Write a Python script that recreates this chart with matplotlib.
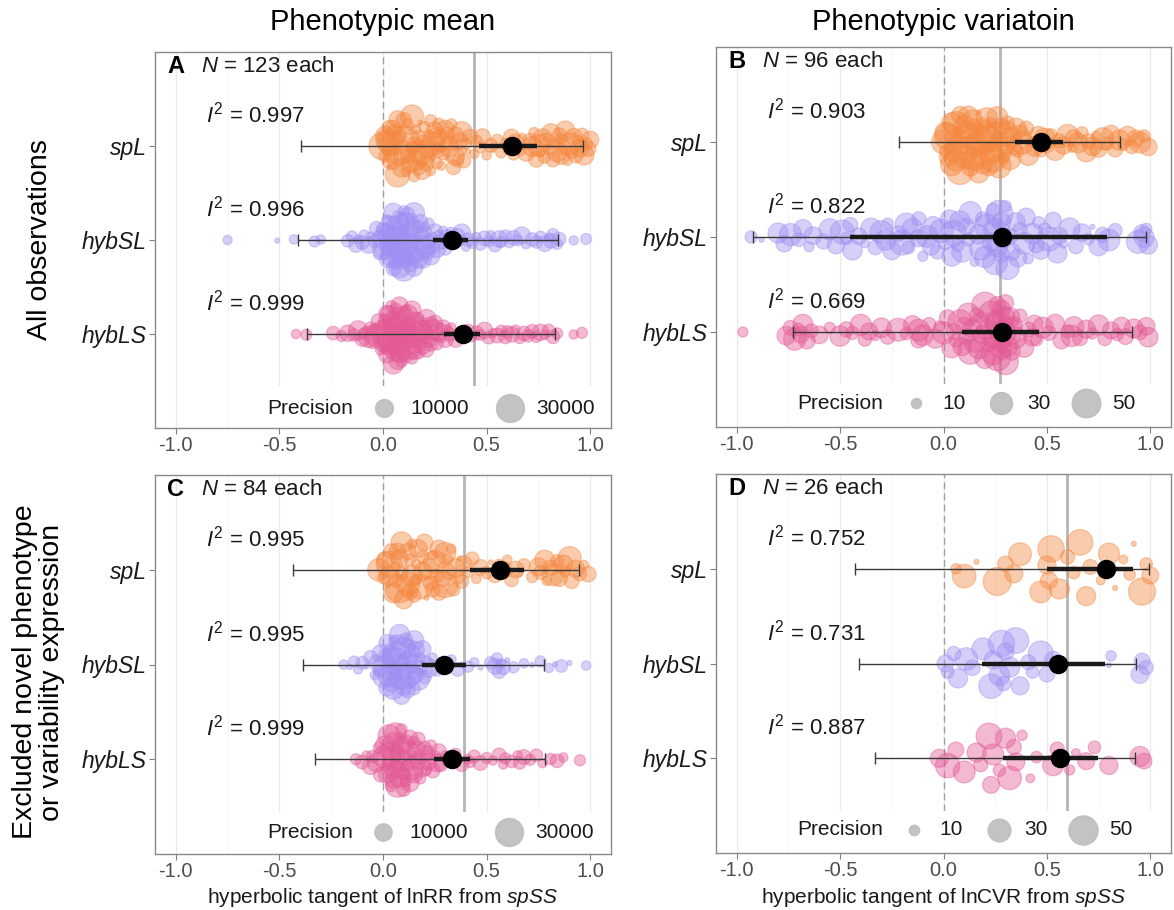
import numpy as np
import matplotlib
matplotlib.use("Agg")
import matplotlib.pyplot as plt
from matplotlib.patches import Rectangle

plt.rcParams['font.family'] = ['Liberation Sans', 'DejaVu Sans']
plt.rcParams['mathtext.fontset'] = 'custom'
plt.rcParams['mathtext.rm'] = 'Liberation Sans'
plt.rcParams['mathtext.it'] = 'Liberation Sans:italic'
plt.rcParams['mathtext.bf'] = 'Liberation Sans:bold'

groups = ['spL', 'hybSL', 'hybLS']
group_colors = ['#F5873F', '#9E8FF2', '#E35A96']

# ---- panel A: lnRR, all observations (precision in thousands) ----
a_spl_x = [0.00, 0.01, 0.01, 0.02, 0.02, 0.03, 0.03, 0.04, 0.05, 0.05,
           0.06, 0.06, 0.07, 0.07, 0.08, 0.08, 0.09, 0.09, 0.10, 0.10,
           0.11, 0.11, 0.12, 0.13, 0.13, 0.14, 0.14, 0.15, 0.15, 0.16,
           0.16, 0.17, 0.18, 0.18, 0.19, 0.19, 0.20, 0.20, 0.21, 0.22,
           0.22, 0.23, 0.24, 0.24, 0.25, 0.26, 0.26, 0.27, 0.28, 0.28,
           0.29, 0.30, 0.31, 0.31, 0.32, 0.33, 0.34, 0.34, 0.35, 0.36,
           0.37, 0.38, 0.38, 0.39, 0.40, 0.41, 0.42, 0.44, 0.45, 0.47,
           0.48, 0.50, 0.52, 0.53, 0.55, 0.57, 0.59, 0.61, 0.62, 0.63,
           0.64, 0.66, 0.67, 0.69, 0.71, 0.72, 0.73, 0.74, 0.75, 0.76,
           0.77, 0.78, 0.79, 0.80, 0.81, 0.82, 0.83, 0.84, 0.85, 0.86,
           0.86, 0.87, 0.88, 0.89, 0.90, 0.91, 0.92, 0.93, 0.94, 0.95,
           0.96, 0.97, 0.98, 0.99, 1.00, 0.02, 0.04, 0.07, 0.12, 0.17,
           0.23, 0.27, 0.35]
a_spl_prec = [30, 4, 12, 2, 18, 6, 1, 25, 8, 3,
              14, 2, 9, 22, 5, 1, 11, 3, 16, 7,
              2, 28, 6, 10, 1, 4, 19, 3, 8, 13,
              2, 6, 24, 1, 9, 5, 15, 3, 7, 2,
              11, 4, 20, 1, 8, 3, 12, 6, 2, 17,
              5, 9, 1, 7, 13, 3, 6, 2, 10, 4,
              8, 2, 14, 5, 3, 1, 6, 2, 4, 3,
              7, 2, 5, 1, 4, 3, 2, 6, 8, 3,
              12, 4, 2, 9, 5, 13, 3, 7, 16, 2,
              10, 4, 8, 3, 11, 6, 2, 14, 5, 9,
              3, 7, 12, 2, 18, 4, 8, 6, 3, 10,
              5, 13, 4, 7, 9, 2, 5, 1, 3, 6,
              2, 4, 8]
a_hybsl_x = [-0.75, -0.51, -0.43, -0.33, -0.30, -0.17, -0.15, -0.13, -0.12, -0.10,
             -0.09, -0.07, -0.06, -0.04, -0.03, -0.02, -0.01, 0.00, 0.00, 0.01,
             0.01, 0.02, 0.02, 0.03, 0.03, 0.03, 0.04, 0.04, 0.05, 0.05,
             0.05, 0.06, 0.06, 0.07, 0.07, 0.07, 0.08, 0.08, 0.09, 0.09,
             0.09, 0.10, 0.10, 0.11, 0.11, 0.12, 0.12, 0.12, 0.13, 0.13,
             0.14, 0.14, 0.15, 0.15, 0.16, 0.16, 0.17, 0.17, 0.18, 0.18,
             0.19, 0.19, 0.20, 0.20, 0.21, 0.22, 0.22, 0.23, 0.24, 0.25,
             0.26, 0.27, 0.28, 0.29, 0.30, 0.31, 0.32, 0.33, 0.34, 0.36,
             0.37, 0.38, 0.40, 0.41, 0.43, 0.45, 0.47, 0.49, 0.51, 0.52,
             0.54, 0.56, 0.57, 0.59, 0.61, 0.63, 0.65, 0.67, 0.69, 0.72,
             0.74, 0.76, 0.78, 0.80, 0.81, 0.82, 0.84, 0.85, 0.92, 0.98,
             0.04, 0.06, 0.08, 0.10, 0.13, 0.15, 0.02, 0.11, 0.18, 0.21,
             0.24, 0.09, 0.14]
a_hybsl_prec = [2, 1, 2, 3, 2, 4, 3, 6, 2, 5,
                3, 8, 2, 4, 6, 3, 10, 15, 5, 2,
                12, 7, 3, 18, 9, 4, 14, 2, 11, 6,
                20, 3, 8, 13, 5, 2, 16, 9, 4, 12,
                7, 3, 22, 6, 10, 2, 14, 5, 8, 18,
                3, 11, 6, 15, 2, 9, 4, 12, 7, 3,
                10, 5, 14, 2, 8, 6, 3, 11, 4, 7,
                9, 3, 6, 2, 5, 8, 3, 4, 2, 7,
                3, 10, 2, 5, 3, 2, 4, 6, 3, 2,
                5, 8, 3, 4, 2, 6, 3, 9, 2, 5,
                4, 3, 7, 2, 6, 4, 3, 5, 2, 3,
                9, 6, 13, 8, 5, 10, 7, 4, 6, 3,
                5, 12, 8]
a_hybls_x = [-0.42, -0.37, -0.24, -0.20, -0.17, -0.14, -0.12, -0.10, -0.09, -0.07,
             -0.06, -0.05, -0.04, -0.03, -0.02, -0.01, 0.00, 0.00, 0.01, 0.01,
             0.02, 0.02, 0.03, 0.03, 0.04, 0.04, 0.04, 0.05, 0.05, 0.06,
             0.06, 0.06, 0.07, 0.07, 0.08, 0.08, 0.08, 0.09, 0.09, 0.10,
             0.10, 0.11, 0.11, 0.12, 0.12, 0.13, 0.13, 0.14, 0.14, 0.15,
             0.15, 0.16, 0.16, 0.17, 0.18, 0.18, 0.19, 0.19, 0.20, 0.21,
             0.21, 0.22, 0.23, 0.23, 0.24, 0.25, 0.25, 0.26, 0.27, 0.28,
             0.29, 0.30, 0.31, 0.32, 0.33, 0.35, 0.37, 0.39, 0.41, 0.43,
             0.45, 0.47, 0.49, 0.51, 0.53, 0.55, 0.57, 0.59, 0.60, 0.62,
             0.64, 0.66, 0.68, 0.70, 0.72, 0.74, 0.76, 0.78, 0.80, 0.82,
             0.84, 0.92, 0.96, 0.03, 0.05, 0.07, 0.09, 0.11, 0.02, 0.06,
             0.10, 0.14, 0.17, 0.08, 0.04, 0.12, 0.20, 0.15, 0.07, 0.01,
             0.22, 0.13, 0.05]
a_hybls_prec = [2, 3, 5, 3, 8, 4, 12, 6, 3, 15,
                5, 9, 4, 18, 7, 3, 22, 11, 5, 2,
                14, 8, 4, 19, 6, 10, 3, 13, 7, 2,
                16, 5, 9, 4, 12, 6, 21, 3, 8, 11,
                5, 14, 2, 9, 6, 17, 4, 10, 3, 7,
                12, 5, 8, 3, 15, 6, 2, 9, 4, 11,
                6, 3, 8, 5, 13, 2, 7, 4, 10, 3,
                6, 9, 3, 5, 2, 7, 4, 3, 6, 2,
                5, 3, 8, 4, 2, 6, 3, 5, 4, 7,
                2, 3, 6, 4, 5, 3, 8, 2, 4, 5,
                3, 2, 3, 10, 6, 13, 8, 5, 9, 4,
                7, 11, 5, 9, 3, 12, 6, 8, 4, 7,
                5, 10, 3]
a_mean = [0.624, 0.331, 0.386]
a_ci_lo = [0.462, 0.240, 0.295]
a_ci_hi = [0.745, 0.410, 0.470]
a_pi_lo = [-0.395, -0.410, -0.366]
a_pi_hi = [0.967, 0.843, 0.832]
a_i2 = ['0.997', '0.996', '0.999']
a_overall = 0.437

# ---- panel B: lnCVR, all observations ----
b_spl_x = [0.00, 0.01, 0.01, 0.02, 0.02, 0.03, 0.04, 0.04, 0.05, 0.05,
           0.06, 0.07, 0.07, 0.08, 0.08, 0.09, 0.10, 0.10, 0.11, 0.12,
           0.12, 0.13, 0.13, 0.14, 0.15, 0.15, 0.16, 0.17, 0.17, 0.18,
           0.19, 0.19, 0.20, 0.21, 0.21, 0.22, 0.23, 0.23, 0.24, 0.25,
           0.25, 0.26, 0.27, 0.27, 0.28, 0.29, 0.30, 0.30, 0.31, 0.32,
           0.33, 0.34, 0.35, 0.36, 0.37, 0.38, 0.40, 0.41, 0.43, 0.44,
           0.46, 0.47, 0.49, 0.50, 0.52, 0.54, 0.56, 0.58, 0.60, 0.62,
           0.63, 0.65, 0.67, 0.69, 0.70, 0.72, 0.74, 0.75, 0.77, 0.79,
           0.81, 0.83, 0.85, 0.87, 0.89, 0.91, 0.93, 0.95, 0.97, 0.99,
           0.06, 0.14, 0.22, 0.28, 0.11, 0.18]
b_spl_prec = [35, 12, 28, 18, 42, 10, 25, 31, 15, 22,
              38, 9, 27, 19, 45, 14, 30, 21, 11, 36,
              24, 17, 40, 13, 29, 20, 33, 8, 26, 44,
              16, 23, 37, 12, 28, 19, 32, 10, 41, 22,
              15, 27, 34, 18, 25, 11, 39, 20, 14, 30,
              24, 16, 28, 12, 21, 33, 15, 26, 10, 19,
              23, 13, 29, 17, 11, 25, 14, 20, 31, 9,
              18, 24, 12, 27, 15, 22, 10, 19, 30, 13,
              21, 16, 26, 11, 23, 14, 18, 28, 12, 20,
              30, 24, 36, 18, 27, 22]
b_hybsl_x = [-0.93, -0.88, -0.80, -0.77, -0.74, -0.70, -0.68, -0.65, -0.58, -0.55,
             -0.52, -0.49, -0.47, -0.44, -0.41, -0.38, -0.35, -0.33, -0.30, -0.27,
             -0.25, -0.22, -0.20, -0.17, -0.15, -0.12, -0.10, -0.08, -0.05, -0.03,
             -0.01, 0.01, 0.03, 0.05, 0.07, 0.09, 0.11, 0.13, 0.15, 0.17,
             0.19, 0.21, 0.23, 0.24, 0.26, 0.27, 0.28, 0.29, 0.30, 0.31,
             0.33, 0.35, 0.37, 0.39, 0.41, 0.43, 0.45, 0.47, 0.49, 0.51,
             0.53, 0.55, 0.58, 0.61, 0.64, 0.67, 0.70, 0.72, 0.75, 0.77,
             0.80, 0.83, 0.94, 0.96, 0.97, 0.98, 0.99, -0.63, -0.45, -0.28,
             -0.18, -0.06, 0.04, 0.12, 0.20, 0.25, 0.32, 0.40, 0.46, 0.56,
             0.25, 0.28, 0.18, 0.08, -0.12, 0.36]
b_hybsl_prec = [12, 8, 25, 18, 30, 14, 22, 10, 16, 28,
                20, 35, 12, 24, 18, 9, 27, 15, 32, 11,
                21, 17, 38, 13, 26, 19, 10, 29, 23, 14,
                34, 16, 22, 40, 12, 27, 18, 31, 9, 24,
                15, 36, 20, 13, 28, 45, 17, 25, 11, 33,
                19, 22, 14, 30, 10, 26, 16, 21, 12, 35,
                18, 24, 9, 27, 15, 20, 11, 8, 23, 16,
                29, 14, 32, 18, 25, 11, 22, 20, 15, 26,
                31, 19, 24, 13, 28, 38, 17, 21, 12, 18,
                33, 22, 30, 25, 14, 20]
b_hybls_x = [-0.97, -0.76, -0.74, -0.72, -0.70, -0.68, -0.66, -0.64, -0.60, -0.55,
             -0.50, -0.47, -0.44, -0.40, -0.36, -0.33, -0.30, -0.27, -0.22, -0.18,
             -0.15, -0.12, -0.10, -0.07, -0.04, -0.02, 0.00, 0.02, 0.04, 0.06,
             0.08, 0.10, 0.11, 0.13, 0.14, 0.16, 0.17, 0.18, 0.20, 0.21,
             0.22, 0.24, 0.25, 0.26, 0.27, 0.28, 0.29, 0.30, 0.31, 0.32,
             0.33, 0.35, 0.37, 0.39, 0.41, 0.43, 0.45, 0.48, 0.51, 0.54,
             0.57, 0.60, 0.63, 0.66, 0.69, 0.72, 0.75, 0.78, 0.81, 0.84,
             0.88, 0.92, 0.95, 0.98, 0.99, -0.69, -0.38, -0.12, 0.05, 0.12,
             0.19, 0.23, 0.27, 0.30, 0.34, 0.15, 0.26, 0.28, 0.09, 0.44,
             0.29, 0.20, 0.62, 0.86, 0.25, 0.31]
b_hybls_prec = [10, 22, 15, 30, 12, 25, 18, 14, 20, 11,
                26, 16, 13, 28, 19, 10, 24, 15, 32, 12,
                21, 17, 27, 14, 23, 11, 30, 18, 25, 13,
                35, 20, 16, 38, 22, 14, 29, 19, 42, 24,
                15, 33, 26, 18, 45, 21, 30, 17, 48, 25,
                19, 28, 14, 23, 16, 20, 12, 27, 15, 22,
                18, 13, 25, 16, 21, 11, 26, 14, 19, 12,
                17, 23, 15, 20, 24, 18, 13, 29, 16, 31,
                22, 36, 27, 40, 19, 33, 44, 26, 21, 18,
                38, 24, 28, 20, 34, 25]
b_mean = [0.471, 0.283, 0.285]
b_ci_lo = [0.347, -0.452, 0.089]
b_ci_hi = [0.578, 0.790, 0.460]
b_pi_lo = [-0.214, -0.923, -0.726]
b_pi_hi = [0.852, 0.979, 0.911]
b_i2 = ['0.903', '0.822', '0.669']
b_overall = 0.275

# ---- panel C: lnRR, novel phenotype excluded (precision in thousands) ----
c_spl_x = [-0.02, 0.00, 0.01, 0.02, 0.03, 0.04, 0.05, 0.06, 0.07, 0.08,
           0.09, 0.10, 0.11, 0.12, 0.13, 0.13, 0.14, 0.15, 0.16, 0.17,
           0.18, 0.19, 0.20, 0.21, 0.22, 0.23, 0.24, 0.25, 0.26, 0.27,
           0.28, 0.29, 0.30, 0.31, 0.32, 0.33, 0.35, 0.36, 0.37, 0.39,
           0.41, 0.43, 0.45, 0.47, 0.50, 0.52, 0.54, 0.56, 0.58, 0.60,
           0.62, 0.64, 0.66, 0.68, 0.72, 0.75, 0.76, 0.78, 0.79, 0.81,
           0.82, 0.84, 0.85, 0.87, 0.88, 0.90, 0.91, 0.93, 0.95, 0.97,
           0.99, 0.03, 0.06, 0.09, 0.12, 0.16, 0.19, 0.24, 0.30, 0.34,
           0.08, 0.14, 0.27, 0.38]
c_spl_prec = [18, 4, 10, 2, 25, 7, 13, 3, 9, 30,
              5, 12, 2, 20, 8, 4, 15, 6, 3, 11,
              22, 5, 9, 2, 14, 7, 3, 19, 6, 10,
              2, 8, 16, 4, 7, 3, 12, 5, 2, 9,
              4, 6, 3, 8, 5, 2, 7, 4, 10, 3,
              6, 9, 2, 5, 4, 11, 6, 14, 3, 8,
              17, 5, 9, 12, 4, 20, 7, 10, 6, 3,
              8, 13, 6, 16, 9, 4, 11, 7, 24, 5,
              10, 3, 8, 6]
c_hybsl_x = [-0.19, -0.16, -0.14, -0.12, -0.10, -0.08, -0.06, -0.04, -0.03, -0.02,
             -0.01, 0.00, 0.01, 0.01, 0.02, 0.03, 0.03, 0.04, 0.05, 0.05,
             0.06, 0.07, 0.07, 0.08, 0.09, 0.09, 0.10, 0.11, 0.11, 0.12,
             0.13, 0.13, 0.14, 0.15, 0.15, 0.16, 0.17, 0.18, 0.19, 0.20,
             0.21, 0.22, 0.24, 0.26, 0.28, 0.30, 0.33, 0.36, 0.38, 0.41,
             0.44, 0.47, 0.52, 0.54, 0.55, 0.56, 0.57, 0.58, 0.60, 0.63,
             0.68, 0.72, 0.76, 0.80, 0.83, 0.86, 0.90, 0.98, 0.02, 0.04,
             0.06, 0.08, 0.10, 0.12, 0.14, 0.16, 0.18, 0.03, 0.09, 0.11,
             0.07, 0.13, 0.05, 0.15]
c_hybsl_prec = [3, 2, 4, 3, 5, 2, 6, 3, 8, 4,
                10, 14, 6, 20, 9, 4, 16, 7, 12, 3,
                18, 8, 5, 22, 10, 6, 15, 3, 11, 7,
                19, 4, 9, 13, 5, 8, 17, 3, 10, 6,
                4, 12, 3, 7, 2, 5, 3, 6, 2, 4,
                3, 2, 5, 8, 4, 6, 3, 7, 2, 4,
                3, 2, 4, 3, 2, 5, 2, 3, 9, 12,
                6, 14, 8, 11, 5, 9, 7, 4, 13, 6,
                10, 5, 16, 8]
c_hybls_x = [-0.13, -0.10, -0.08, -0.06, -0.05, -0.03, -0.02, -0.01, 0.00, 0.01,
             0.02, 0.03, 0.03, 0.04, 0.05, 0.05, 0.06, 0.07, 0.07, 0.08,
             0.09, 0.09, 0.10, 0.11, 0.11, 0.12, 0.13, 0.14, 0.14, 0.15,
             0.16, 0.17, 0.18, 0.19, 0.20, 0.21, 0.22, 0.23, 0.24, 0.25,
             0.26, 0.28, 0.30, 0.32, 0.35, 0.38, 0.41, 0.44, 0.47, 0.50,
             0.53, 0.56, 0.59, 0.62, 0.65, 0.68, 0.71, 0.74, 0.77, 0.81,
             0.84, 0.87, 0.95, 0.02, 0.04, 0.06, 0.08, 0.10, 0.12, 0.15,
             0.18, 0.06, 0.09, 0.13, 0.17, 0.21, 0.01, 0.05, 0.10, 0.27,
             0.42, 0.58, 0.66, 0.07]
c_hybls_prec = [4, 6, 3, 9, 5, 12, 4, 7, 15, 3,
                10, 6, 18, 4, 8, 13, 5, 21, 7, 3,
                11, 16, 6, 9, 4, 14, 7, 3, 19, 5,
                10, 8, 4, 12, 6, 3, 9, 5, 7, 4,
                11, 6, 3, 8, 4, 6, 3, 5, 7, 4,
                3, 6, 4, 5, 3, 7, 4, 5, 3, 4,
                6, 3, 4, 8, 12, 6, 14, 9, 5, 10,
                7, 17, 4, 11, 6, 8, 13, 9, 5, 7,
                4, 3, 5, 10]
c_mean = [0.566, 0.295, 0.335]
c_ci_lo = [0.420, 0.190, 0.245]
c_ci_hi = [0.680, 0.400, 0.420]
c_pi_lo = [-0.434, -0.388, -0.330]
c_pi_hi = [0.944, 0.775, 0.780]
c_i2 = ['0.995', '0.995', '0.999']
c_overall = 0.390

# ---- panel D: lnCVR, novel variability excluded ----
d_spl_x = [0.06, 0.10, 0.16, 0.26, 0.30, 0.34, 0.37, 0.47, 0.51, 0.52,
           0.56, 0.60, 0.63, 0.66, 0.69, 0.71, 0.76, 0.80, 0.83, 0.87,
           0.90, 0.92, 0.96, 0.98, 1.00, 0.50]
d_spl_prec = [10, 32, 8, 45, 16, 20, 30, 28, 18, 40,
              24, 14, 12, 38, 22, 15, 9, 26, 8, 9,
              11, 8, 42, 12, 18, 20]
d_hybsl_x = [0.01, 0.02, 0.05, 0.07, 0.11, 0.14, 0.19, 0.23, 0.24, 0.27,
             0.28, 0.29, 0.30, 0.32, 0.35, 0.37, 0.41, 0.43, 0.47, 0.50,
             0.53, 0.80, 0.81, 0.95, 0.96, 0.98]
d_hybsl_prec = [18, 12, 14, 22, 30, 16, 28, 35, 20, 25,
                40, 14, 18, 24, 38, 20, 15, 12, 36, 16,
                18, 8, 10, 20, 16, 14]
d_hybls_x = [-0.02, 0.02, 0.06, 0.10, 0.16, 0.18, 0.22, 0.23, 0.24, 0.27,
             0.30, 0.32, 0.34, 0.35, 0.38, 0.42, 0.45, 0.53, 0.55, 0.61,
             0.64, 0.69, 0.73, 0.80, 0.95, 0.97]
d_hybls_prec = [20, 34, 16, 28, 22, 14, 38, 18, 26, 12,
                24, 32, 15, 20, 10, 9, 11, 26, 14, 10,
                9, 18, 12, 20, 24, 16]
d_mean = [0.788, 0.555, 0.563]
d_ci_lo = [0.499, 0.185, 0.289]
d_ci_hi = [0.917, 0.780, 0.748]
d_pi_lo = [-0.426, -0.410, -0.329]
d_pi_hi = [0.992, 0.933, 0.925]
d_i2 = ['0.752', '0.731', '0.887']
d_overall = 0.598

n_labels = ['123', '96', '84', '26']
legend_a = [10, 30]       # thousands
legend_b = [10, 30, 50]


def vdc(n):
    out = []
    for i in range(1, n + 1):
        v, den, k = 0.0, 1.0, i
        while k:
            den *= 2
            k, r = divmod(k, 2)
            v += r / den
        out.append(v)
    return np.array(out)


def quasirandom(x, width=0.34):
    # offsets like ggbeeswarm::geom_quasirandom
    x = np.asarray(x, float)
    n = len(x)
    sd = x.std(ddof=1)
    iqr = np.subtract(*np.percentile(x, [75, 25]))
    bw = 0.5 * 0.9 * min(sd, iqr / 1.34) * n ** -0.2
    dens = np.exp(-0.5 * ((x[:, None] - x[None, :]) / bw) ** 2).sum(1)
    dens = dens / dens.max()
    ranks = np.argsort(np.argsort(x, kind='stable'), kind='stable')
    q = vdc(n)[ranks]
    return (q * 2 - 1) * dens * width


def size_scale(p, pmin, pmax):
    u = np.clip((np.asarray(p, float) - pmin) / (pmax - pmin), 0, 1.1)
    d_px = 5 + 23 * np.sqrt(u)
    return (d_px * 72 / 100) ** 2


W, H = 1174, 910
fig = plt.figure(figsize=(W / 100, H / 100), dpi=100)

# rect = (left, top, right, bottom) in pixels; legend anchors in axes fractions
panels = [
    dict(letter='A', rect=(155, 52, 611, 428), n=n_labels[0],
         xs=[a_spl_x, a_hybsl_x, a_hybls_x], ps=[a_spl_prec, a_hybsl_prec, a_hybls_prec],
         mean=a_mean, cl=a_ci_lo, cu=a_ci_hi, pl=a_pi_lo, pu=a_pi_hi, i2=a_i2,
         overall=a_overall, leg=legend_a, leg_fmt='{}000', prec_x=0.246,
         leg_x=0.965, leg_y=0.053, colsp=1.3, xlabel=None),
    dict(letter='B', rect=(716, 47, 1171, 427), n=n_labels[1],
         xs=[b_spl_x, b_hybsl_x, b_hybls_x], ps=[b_spl_prec, b_hybsl_prec, b_hybls_prec],
         mean=b_mean, cl=b_ci_lo, cu=b_ci_hi, pl=b_pi_lo, pu=b_pi_hi, i2=b_i2,
         overall=b_overall, leg=legend_b, leg_fmt='{}', prec_x=0.178,
         leg_x=0.921, leg_y=0.063, colsp=1.0, xlabel=None),
    dict(letter='C', rect=(155, 475, 611, 854), n=n_labels[2],
         xs=[c_spl_x, c_hybsl_x, c_hybls_x], ps=[c_spl_prec, c_hybsl_prec, c_hybls_prec],
         mean=c_mean, cl=c_ci_lo, cu=c_ci_hi, pl=c_pi_lo, pu=c_pi_hi, i2=c_i2,
         overall=c_overall, leg=legend_a, leg_fmt='{}000', prec_x=0.246,
         leg_x=0.963, leg_y=0.058, colsp=1.3,
         xlabel='hyperbolic tangent of lnRR from $\\mathit{spSS}$'),
    dict(letter='D', rect=(716, 474, 1171, 853), n=n_labels[3],
         xs=[d_spl_x, d_hybsl_x, d_hybls_x], ps=[d_spl_prec, d_hybsl_prec, d_hybls_prec],
         mean=d_mean, cl=d_ci_lo, cu=d_ci_hi, pl=d_pi_lo, pu=d_pi_hi, i2=d_i2,
         overall=d_overall, leg=legend_b, leg_fmt='{}', prec_x=0.178,
         leg_x=0.916, leg_y=0.061, colsp=1.0,
         xlabel='hyperbolic tangent of lnCVR from $\\mathit{spSS}$'),
]

ypos = [3, 2, 1]
LEG_TOP = 0.112

for pan in panels:
    x0, y0, x1, y1 = pan['rect']
    ax = fig.add_axes([x0 / W, 1 - y1 / H, (x1 - x0) / W, (y1 - y0) / H])
    ax.set_xlim(-1.1, 1.1)
    ax.set_ylim(0, 4)
    ax.set_xticks([-1.0, -0.5, 0.0, 0.5, 1.0])
    ax.set_xticks([-0.75, -0.25, 0.25, 0.75], minor=True)
    ax.set_xticklabels(['-1.0', '-0.5', '0.0', '0.5', '1.0'])
    ax.grid(True, axis='x', which='major', color='#EBEBEB', lw=1.0, zorder=0)
    ax.grid(True, axis='x', which='minor', color='#F4F4F4', lw=0.6, zorder=0)
    ax.set_axisbelow(True)
    ax.set_yticks(ypos)
    ax.set_yticklabels(groups, fontstyle='italic', fontsize=16.5, color='#1A1A1A')
    ax.tick_params(axis='x', which='major', labelsize=14.5, labelcolor='#4D4D4D',
                   color='#7F7F7F', length=4, width=0.8, pad=1.8)
    ax.tick_params(axis='x', which='minor', length=0)
    ax.tick_params(axis='y', color='#7F7F7F', length=4, width=0.8, pad=2)
    for sp in ax.spines.values():
        sp.set_color('#8A8A8A')
        sp.set_linewidth(1.0)

    ax.axvline(0, ymin=LEG_TOP, color='#A0A0A0', lw=1.0, ls=(0, (5, 3)), zorder=1)
    ax.axvline(pan['overall'], ymin=LEG_TOP, color='#B5B5B5', lw=2.0, zorder=1)

    pall = np.concatenate([np.asarray(p, float) for p in pan['ps']])
    pmin, pmax = pall.min(), pall.max()

    for g in range(3):
        xv = np.asarray(pan['xs'][g], float)
        yv = ypos[g] + quasirandom(xv)
        ax.scatter(xv, yv, s=size_scale(pan['ps'][g], pmin, pmax),
                   facecolor=group_colors[g], edgecolor=group_colors[g],
                   linewidth=0.9, alpha=0.42, zorder=2)
        m = pan['mean'][g]
        ax.errorbar(m, ypos[g], xerr=[[m - pan['pl'][g]], [pan['pu'][g] - m]],
                    fmt='none', ecolor='#3A3A3A', elinewidth=1.0, capsize=4,
                    capthick=1.0, zorder=4)
        ax.hlines(ypos[g], pan['cl'][g], pan['cu'][g], color='#1A1A1A', lw=3.2, zorder=5)
        ax.plot(m, ypos[g], 'o', ms=13, color='black', zorder=6)
        ax.text(-0.855, ypos[g] + 0.33, '$\\mathit{I}^2$ = ' + pan['i2'][g],
                fontsize=16, va='center', ha='left', color='#1A1A1A', zorder=7)

    ax.text(0.027, 0.962, pan['letter'], transform=ax.transAxes, fontsize=17,
            fontweight='bold', va='center', ha='left')
    ax.text(0.100, 0.962, '$\\mathit{N}$ = ' + pan['n'] + ' each', transform=ax.transAxes,
            fontsize=16, va='center', ha='left', color='#1A1A1A')

    # white background behind the inset legend
    ax.add_patch(Rectangle((pan['prec_x'] - 0.015, 0.003), 1 - pan['prec_x'] + 0.012,
                           LEG_TOP - 0.003, transform=ax.transAxes,
                           facecolor='white', edgecolor='none', zorder=8))
    handles = [ax.scatter([], [], s=size_scale(v, pmin, pmax), color='#BDBDBD', alpha=0.9)
               for v in pan['leg']]
    labels = [pan['leg_fmt'].format(v) for v in pan['leg']]
    leg = ax.legend(handles, labels, ncol=len(handles), loc='center right',
                    bbox_to_anchor=(pan['leg_x'], pan['leg_y']), frameon=False,
                    fontsize=15, handletextpad=0.55, columnspacing=pan['colsp'],
                    borderaxespad=0, borderpad=0, handlelength=1.4)
    leg.set_zorder(9)
    for t in leg.get_texts():
        t.set_color('#1A1A1A')
    ax.text(pan['prec_x'], pan['leg_y'], 'Precision', transform=ax.transAxes,
            fontsize=15, va='center', ha='left', color='#1A1A1A', zorder=10)

    if pan['xlabel']:
        ax.set_xlabel(pan['xlabel'], fontsize=15, color='#1A1A1A')
        ax.xaxis.set_label_coords(0.5, -(886 - y1) / (y1 - y0))
        ax.xaxis.label.set_va('top')

fig.text(383 / W, 1 - 22 / H, 'Phenotypic mean', fontsize=21, ha='center', va='center')
fig.text(943 / W, 1 - 22 / H, 'Phenotypic variatoin', fontsize=21, ha='center', va='center')
fig.text(40 / W, 1 - 240 / H, 'All observations', fontsize=20.5, rotation=90,
         ha='center', va='center')
fig.text(39 / W, 1 - 672 / H, 'Excluded novel phenotype\nor variability expression',
         fontsize=20.5, rotation=90, ha='center', va='center', linespacing=1.05)

fig.savefig('out.png', dpi=100)
